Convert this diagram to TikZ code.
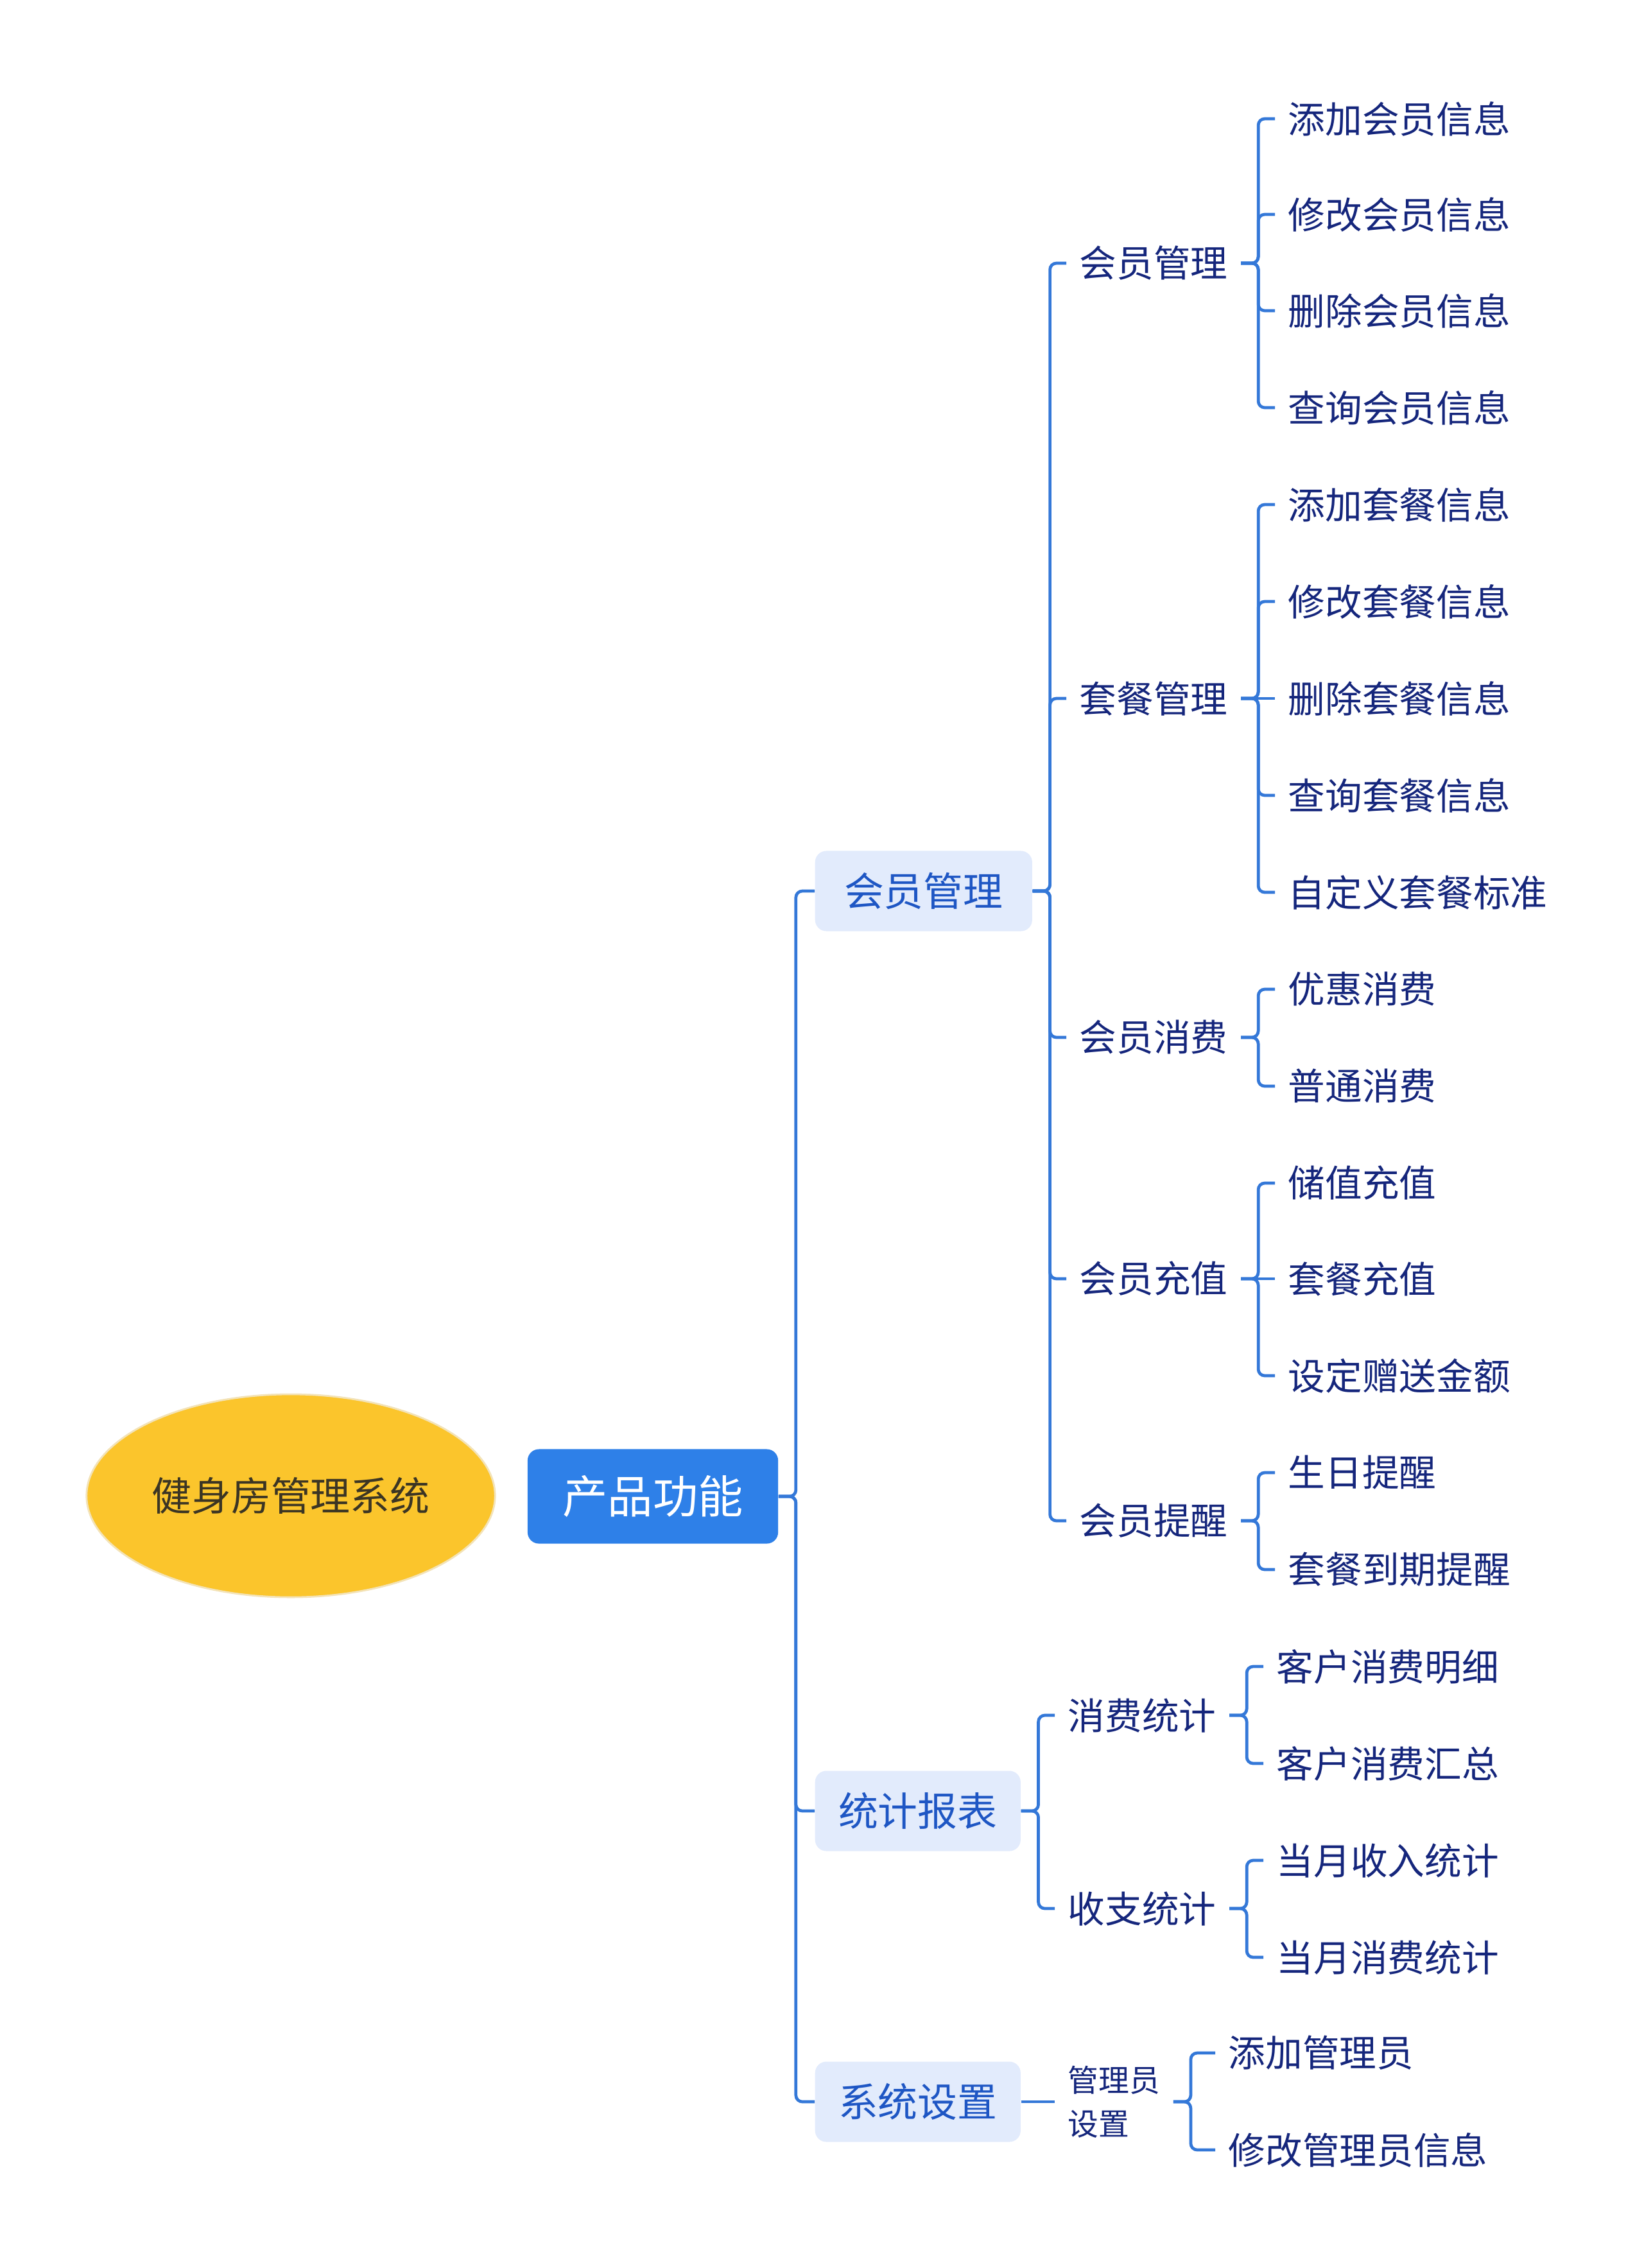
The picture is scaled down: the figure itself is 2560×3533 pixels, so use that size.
\documentclass[tikz,border=0pt]{standalone}
\usepackage{fontspec}
\usepackage{xcolor}
\usepackage{tikz}
\usetikzlibrary{shapes.geometric}
\newfontfamily\cjk{Noto Sans CJK SC}
\definecolor{sun}{HTML}{FBC52C}
\definecolor{sunEdge}{HTML}{F3E3B8}
\definecolor{soil}{HTML}{3B3524}
\definecolor{azure}{HTML}{2E80E8}
\definecolor{azureLite}{HTML}{E2EBFC}
\definecolor{azureInk}{HTML}{1E56C4}
\definecolor{navy}{HTML}{15267C}
\definecolor{wire}{HTML}{3478D8}
\tikzset{
  rootnode/.style={ellipse, draw=sunEdge, line width=0.8pt, fill=sun, minimum width=6.36cm, minimum height=3.16cm, inner sep=0pt, text=soil, font=\cjk\fontsize{17.6}{21}\selectfont},
  hubnode/.style={rectangle, rounded corners=5pt, fill=azure, minimum width=3.9cm, minimum height=1.47cm, text=white, font=\cjk\fontsize{20}{24}\selectfont},
  topic/.style={anchor=west, rectangle, rounded corners=5pt, fill=azureLite, minimum height=1.25cm, text=azureInk, font=\cjk\fontsize{17.6}{21}\selectfont},
  subtopic/.style={anchor=west, inner xsep=0.2cm, text=navy, font=\cjk\fontsize{16.4}{20}\selectfont},
  leaf/.style={anchor=west, inner xsep=0.2cm, text=navy, font=\cjk\fontsize{16.4}{20}\selectfont},
  link/.style={draw=wire, line width=1.35pt, rounded corners=0.1cm}
}
\begin{document}
\begin{tikzpicture}[x=0.01cm,y=-0.01cm]
  \useasboundingbox (0,0) rectangle (2560,3533);

  \node[rootnode] (root) at (453,2330) {健身房管理系统};
  \node[hubnode] (prod) at (1017,2331) {产品功能};

  \node[topic, minimum width=3.38cm] (mem) at (1269,1388) {会员管理};
  \node[topic, minimum width=3.2cm] (stat) at (1269,2821) {统计报表};
  \node[topic, minimum width=3.2cm] (sys) at (1269,3274) {系统设置};

  % 会员管理
  \node[subtopic] (memMgr) at (1661,410) {会员管理};
  \node[subtopic] (pkgMgr) at (1661,1088) {套餐管理};
  \node[subtopic] (memPay) at (1661,1616) {会员消费};
  \node[subtopic] (memCharge) at (1661,1992) {会员充值};
  \node[subtopic] (memRemind) at (1661,2369) {会员提醒};

  \node[leaf] (ma) at (1986,185) {添加会员信息};
  \node[leaf] (mb) at (1986,334) {修改会员信息};
  \node[leaf] (mc) at (1986,484) {删除会员信息};
  \node[leaf] (md) at (1986,635) {查询会员信息};

  \node[leaf] (pa) at (1986,786) {添加套餐信息};
  \node[leaf] (pb) at (1986,937) {修改套餐信息};
  \node[leaf] (pc) at (1986,1088) {删除套餐信息};
  \node[leaf] (pd) at (1986,1239) {查询套餐信息};
  \node[leaf] (pe) at (1986,1390) {自定义套餐标准};

  \node[leaf] (ca) at (1986,1541) {优惠消费};
  \node[leaf] (cb) at (1986,1692) {普通消费};

  \node[leaf] (ra) at (1986,1843) {储值充值};
  \node[leaf] (rb) at (1986,1992) {套餐充值};
  \node[leaf] (rc) at (1986,2143) {设定赠送金额};

  \node[leaf] (ta) at (1986,2294) {生日提醒};
  \node[leaf] (tb) at (1986,2445) {套餐到期提醒};

  % 统计报表
  \node[subtopic] (payStat) at (1643,2672) {消费统计};
  \node[subtopic] (balStat) at (1643,2973) {收支统计};
  \node[leaf] (sa) at (1968,2596) {客户消费明细};
  \node[leaf] (sb) at (1968,2747) {客户消费汇总};
  \node[leaf] (ia) at (1968,2898) {当月收入统计};
  \node[leaf] (ib) at (1968,3049) {当月消费统计};

  % 系统设置
  \node[subtopic, font=\cjk\fontsize{13.6}{19.3}\selectfont, align=left] (adminSet) at (1643,3274) {管理员\\设置};
  \node[leaf] (aa) at (1893,3198) {添加管理员};
  \node[leaf] (ab) at (1893,3349) {修改管理员信息};

  \foreach \c in {mem,stat,sys}
    \draw[link] (prod.east) -- ++(27,0) |- (\c.west);
  \foreach \c in {memMgr,pkgMgr,memPay,memCharge,memRemind}
    \draw[link] (mem.east) -- ++(27,0) |- (\c.west);
  \foreach \c in {ma,mb,mc,md}
    \draw[link] (memMgr.east) -- ++(27,0) |- (\c.west);
  \foreach \c in {pa,pb,pd,pe}
    \draw[link] (pkgMgr.east) -- ++(27,0) |- (\c.west);
  \draw[link] (pkgMgr.east) -- (pc.west);
  \foreach \c in {ca,cb}
    \draw[link] (memPay.east) -- ++(27,0) |- (\c.west);
  \foreach \c in {ra,rc}
    \draw[link] (memCharge.east) -- ++(27,0) |- (\c.west);
  \draw[link] (memCharge.east) -- (rb.west);
  \foreach \c in {ta,tb}
    \draw[link] (memRemind.east) -- ++(27,0) |- (\c.west);

  \foreach \c in {payStat,balStat}
    \draw[link] (stat.east) -- ++(27,0) |- (\c.west);
  \foreach \c in {sa,sb}
    \draw[link] (payStat.east) -- ++(27,0) |- (\c.west);
  \foreach \c in {ia,ib}
    \draw[link] (balStat.east) -- ++(27,0) |- (\c.west);

  \draw[link] (sys.east) -- (adminSet.west);
  \foreach \c in {aa,ab}
    \draw[link] (adminSet.east) -- ++(27,0) |- (\c.west);
\end{tikzpicture}
\end{document}
